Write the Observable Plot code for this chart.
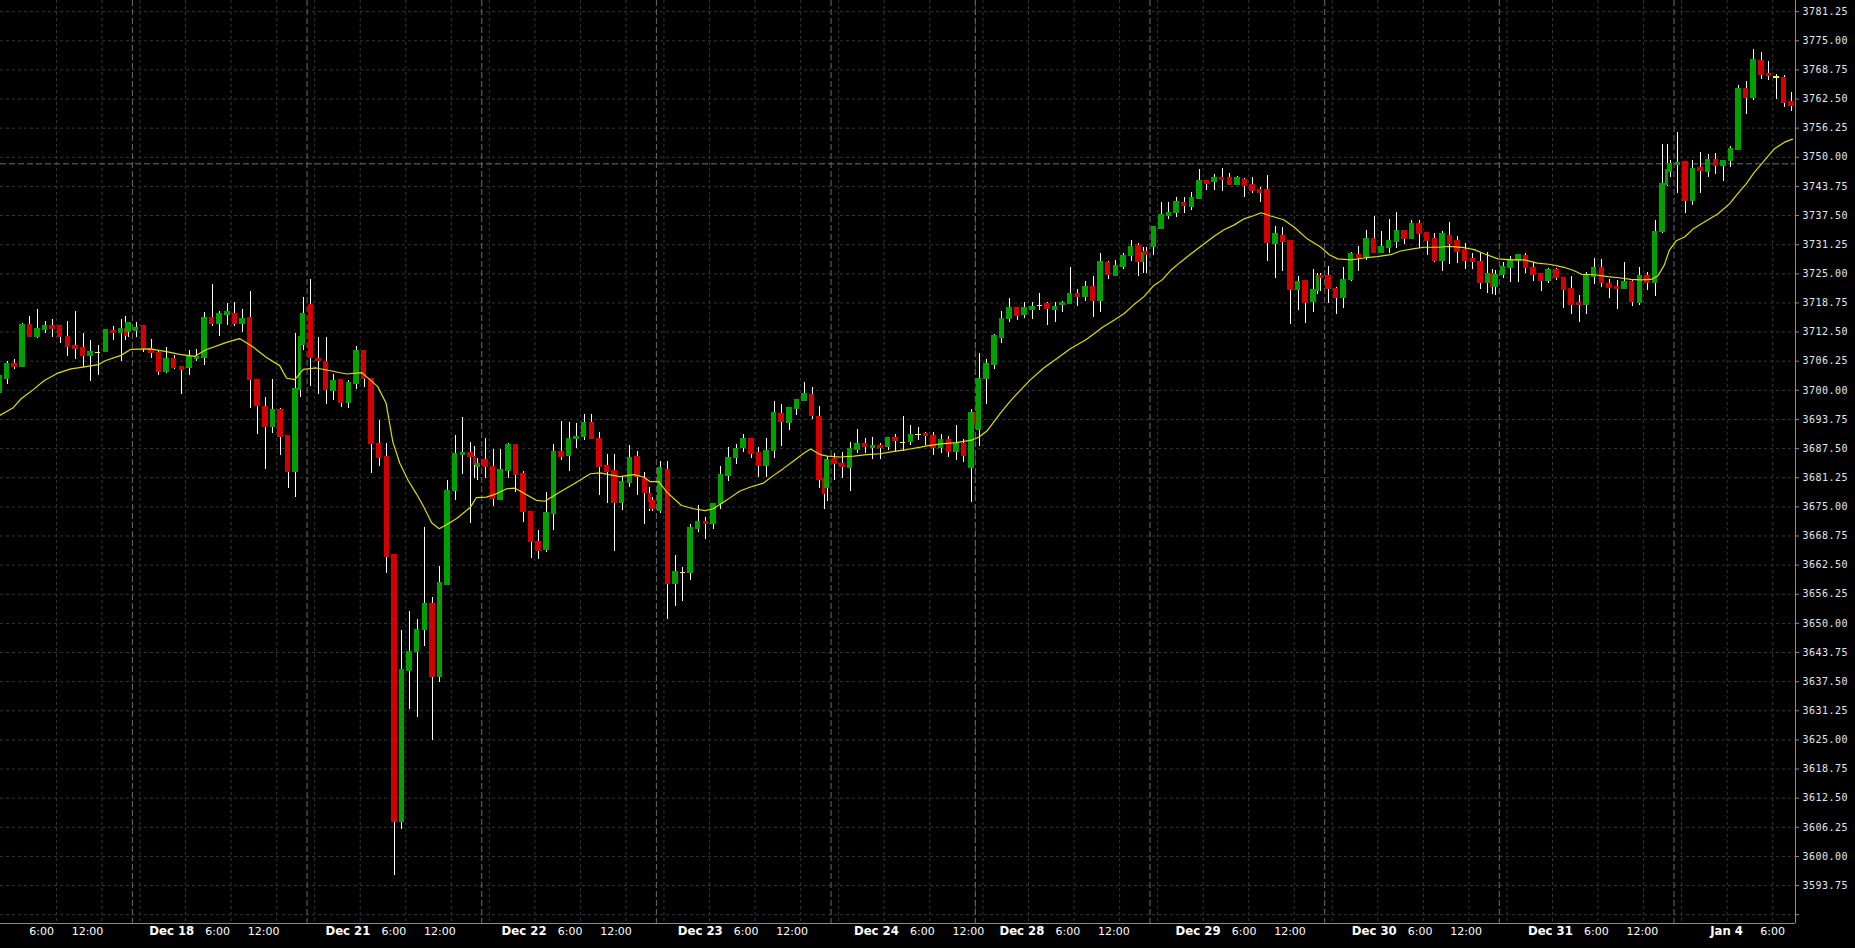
<!DOCTYPE html>
<html>
<head>
<meta charset="utf-8">
<script src="https://cdn.jsdelivr.net/npm/d3@7"></script>
<script src="https://cdn.jsdelivr.net/npm/@observablehq/plot@0.6"></script>
<style>
html, body { margin: 0; padding: 0; background: #000; }
#chart { position: relative; width: 1855px; height: 948px; background: #000; overflow: hidden; }
#chart svg { position: absolute; left: 0; top: 0; }
g[aria-label="y-axis tick label"] text { letter-spacing: 0.5px; }
</style>
</head>
<body>
<div id="chart"></div>
<script>
// ---- hourly candles (bar slot = array index) ----
const openV = [3699.4,3702.6,3705.5,3705.0,3713.9,3711.6,3713.1,3713.7,3713.7,3711.3,3709.4,3709.0,3707.5,3708.0,3708.2,3712.6,3712.3,3712.5,
 3712.9,3713.7,3708.8,3708.0,3704.1,3706.7,3705.0,3704.8,3706.7,3706.9,3715.4,3714.4,3716.3,3716.3,3714.3,3715.4,3702.1,3696.3,3692.1,3695.7,3690.1,3682.5,3709.8,
 3718.2,3706.6,3706.0,3700.0,3702.1,3697.3,3701.5,3708.4,3702.4,3688.4,3685.6,3664.6,3607.5,3639.9,3644.0,3648.7,3654.1,3638.6,3658.4,3678.4,3686.1,3686.4,3683.6,
 3685.0,3683.5,3676.6,3682.7,3688.2,3681.9,3673.9,3667.5,3665.8,3673.5,3686.7,3685.9,3689.6,3690.0,3692.9,3689.6,3683.6,3682.6,3675.8,3680.2,3685.6,3681.2,3676.3,
 3674.2,3682.8,3658.5,3660.8,3660.8,3670.4,3671.6,3671.3,3675.6,3681.7,3685.6,3687.7,3689.4,3686.5,3683.9,3687.1,3694.8,3693.0,3696.1,3697.8,3698.9,3694.2,3679.1,
 3685.2,3684.1,3683.3,3687.3,3688.4,3687.6,3688.0,3688.0,3689.7,3688.7,3688.9,3690.4,3690.5,3690.1,3687.8,3689.3,3686.9,3688.5,3683.4,
 3691.5,3702.6,3705.6,3711.4,3715.3,3717.7,3716.3,3717.4,3718.1,3718.5,3717.4,3718.3,3718.6,3720.6,3720.1,3722.1,3719.3,3727.2,3724.6,3726.6,3728.9,3730.9,3729.6,
 3730.9,3734.6,3737.4,3738.2,3740.1,3739.5,3741.2,3744.8,3744.7,3745.4,3745.4,3744.2,3745.0,3743.9,3742.9,3742.9,3731.4,3733.0,3731.9,3721.6,3723.3,3719.1,3724.5,
 3724.4,3721.6,3719.8,3723.8,3728.9,3728.6,3732.5,3729.6,3730.7,3731.9,3734.1,3732.6,3735.6,3733.6,3732.4,3727.9,3733.0,3731.9,3730.1,3728.1,3727.4,3723.2,3722.3,
 3724.9,3726.3,3727.9,3728.7,3726.2,3725.0,3723.6,3725.7,3724.1,3721.6,3718.6,3718.3,3724.4,3726.1,3722.8,3722.1,3721.9,3723.1,3718.9,3724.4,3723.2,3734.1,3747.0,
 3748.5,3749.0,3740.6,3747.6,3747.0,3749.3,3748.3,3749.2,3751.7,3764.5,3762.7,3770.5,3767.8,3767.1,3766.9,3761.8];
const highV = [3703.5,3706.2,3706.6,3714.4,3715.8,3717.3,3714.8,3715.3,3713.7,3714.8,3716.9,3712.2,3710.7,3709.6,3712.9,3713.7,3715.1,3714.6,
 3714.6,3713.9,3710.9,3708.5,3709.2,3707.5,3705.1,3708.5,3708.7,3716.8,3722.8,3716.9,3718.7,3718.8,3717.3,3721.2,3702.1,3698.5,3702.3,3696.1,3690.1,3712.1,3720.0,
 3723.8,3711.3,3711.3,3703.5,3702.2,3702.1,3709.4,3708.5,3702.5,3693.6,3688.6,3664.7,3648.5,3652.6,3650.8,3670.6,3655.6,3662.2,3680.7,3690.4,3694.1,3688.8,3685.3,
 3689.6,3687.4,3687.4,3688.7,3688.3,3682.6,3674.0,3670.0,3678.0,3688.4,3693.3,3693.2,3692.8,3694.9,3694.9,3690.9,3686.3,3686.3,3681.5,3688.2,3686.9,3682.4,3677.0,
 3684.7,3684.7,3664.6,3662.0,3671.2,3675.3,3672.8,3675.7,3683.7,3687.7,3688.4,3690.5,3689.5,3687.8,3689.7,3697.5,3697.0,3696.2,3697.9,3701.7,3700.7,3696.5,3685.7,
 3686.4,3686.7,3688.8,3691.6,3689.7,3689.8,3688.5,3689.7,3690.5,3694.4,3692.4,3692.1,3691.0,3691.0,3690.5,3690.0,3692.4,3689.5,3695.8,
 3707.8,3706.7,3711.9,3716.9,3719.7,3717.8,3718.8,3718.8,3720.8,3718.9,3718.8,3719.1,3726.4,3721.6,3723.4,3724.4,3729.3,3727.6,3727.8,3729.4,3732.1,3731.4,3730.7,
 3735.0,3740.3,3740.2,3741.4,3741.4,3742.4,3747.4,3745.0,3746.4,3747.7,3746.5,3745.8,3745.4,3745.7,3743.6,3746.1,3735.1,3735.0,3732.0,3724.4,3723.6,3725.9,3725.0,
 3726.6,3722.1,3726.4,3729.6,3730.9,3734.3,3737.3,3734.1,3736.6,3738.2,3734.2,3736.4,3736.4,3733.7,3733.7,3734.1,3736.1,3733.0,3731.6,3729.3,3729.4,3729.6,3725.7,
 3727.5,3728.7,3729.0,3729.4,3727.5,3725.1,3726.2,3726.2,3724.2,3724.4,3720.3,3725.3,3728.2,3728.0,3723.7,3723.6,3727.4,3723.6,3726.3,3725.2,3736.4,3752.7,3749.3,
 3755.3,3749.1,3749.3,3751.0,3750.5,3750.9,3749.3,3752.3,3765.4,3766.3,3773.1,3772.5,3770.5,3767.8,3767.5,3763.8];
const lowV = [3698.5,3701.3,3704.5,3704.8,3711.5,3711.2,3712.3,3711.4,3710.1,3707.3,3706.6,3704.8,3701.8,3703.2,3708.1,3710.7,3706.2,3711.4,
 3711.4,3708.2,3706.9,3703.2,3703.7,3704.4,3699.0,3703.2,3706.2,3705.3,3713.6,3711.6,3714.0,3713.7,3712.5,3696.0,3690.5,3683.1,3690.8,3686.1,3679.0,3677.1,3708.5,
 3700.9,3699.0,3696.9,3697.8,3696.3,3696.1,3700.1,3700.6,3682.2,3683.7,3660.8,3595.9,3605.8,3631.6,3629.8,3645.1,3624.9,3637.3,3658.3,3676.4,3681.9,3671.5,3680.7,
 3681.1,3675.1,3676.3,3681.0,3678.0,3671.7,3664.0,3663.6,3665.3,3670.0,3685.0,3682.6,3687.5,3689.2,3689.5,3677.5,3675.8,3665.5,3674.3,3679.2,3677.4,3671.2,3674.0,
 3673.6,3650.8,3653.7,3654.8,3659.2,3669.6,3668.1,3670.2,3674.4,3680.5,3684.1,3686.7,3685.3,3681.2,3681.2,3685.4,3687.9,3691.4,3694.6,3697.7,3693.7,3679.0,3676.1,
 3680.7,3681.0,3678.2,3686.4,3686.4,3685.2,3685.2,3687.1,3686.6,3686.9,3688.2,3689.2,3688.2,3686.0,3686.5,3685.5,3685.0,3684.5,3676.0,
 3688.0,3696.9,3704.4,3710.1,3714.6,3715.0,3715.5,3715.3,3717.1,3713.9,3714.6,3716.6,3718.5,3718.0,3719.1,3715.6,3716.8,3723.7,3724.5,3726.0,3727.7,3724.5,3725.1,
 3729.0,3734.5,3736.7,3737.1,3737.9,3738.5,3741.1,3742.9,3742.9,3742.7,3743.9,3744.1,3741.4,3742.2,3740.2,3727.6,3724.1,3725.5,3714.2,3717.1,3714.4,3716.6,3721.3,
 3718.7,3716.2,3717.6,3723.4,3725.6,3727.9,3729.5,3729.5,3729.4,3730.5,3731.3,3732.5,3730.5,3728.9,3727.4,3725.5,3727.0,3727.3,3726.0,3726.0,3721.6,3720.7,3720.3,
 3724.1,3723.2,3723.2,3725.1,3723.4,3721.2,3723.0,3723.6,3717.6,3716.2,3714.6,3716.2,3722.8,3722.1,3719.8,3717.4,3721.8,3718.0,3718.2,3721.4,3720.1,3733.7,3745.6,
 3742.3,3738.0,3739.7,3742.2,3745.7,3746.3,3744.8,3747.9,3751.6,3759.2,3762.2,3766.6,3766.5,3762.5,3760.6,3759.9];
const closeV = [3703.0,3705.5,3705.0,3713.9,3711.6,3713.0,3713.7,3713.3,3711.6,3709.3,3709.0,3707.5,3708.1,3708.0,3712.8,3712.3,3713.0,3714.4,
 3713.3,3709.0,3708.0,3704.1,3706.7,3704.8,3704.5,3707.0,3707.0,3715.4,3714.3,3716.3,3716.7,3714.2,3715.2,3702.2,3696.6,3692.1,3695.7,3690.0,3682.5,3700.2,3716.3,
 3706.9,3706.3,3700.2,3701.9,3697.3,3701.5,3708.4,3702.4,3688.5,3685.6,3664.4,3607.5,3639.9,3643.7,3648.5,3654.1,3638.6,3658.5,3678.3,3686.3,3686.4,3685.7,3684.1,
 3683.6,3676.7,3682.8,3688.2,3681.9,3674.0,3667.5,3665.7,3673.6,3686.7,3685.7,3689.5,3690.0,3692.9,3689.6,3683.7,3682.6,3675.8,3680.2,3685.4,3681.4,3678.1,3674.7,
 3683.2,3658.5,3660.9,3660.8,3670.3,3671.6,3671.3,3675.6,3681.7,3685.5,3687.3,3689.4,3686.5,3683.9,3686.9,3695.0,3693.2,3696.1,3697.8,3699.2,3694.5,3680.9,3684.9,
 3684.2,3683.6,3687.3,3688.4,3687.9,3688.0,3687.6,3689.7,3689.2,3688.7,3690.3,3690.4,3690.2,3687.8,3689.3,3686.9,3688.5,3686.0,3695.0,
 3702.3,3705.5,3711.5,3715.2,3717.6,3716.1,3717.6,3717.8,3718.1,3717.6,3717.8,3718.6,3720.6,3720.1,3722.1,3719.3,3727.4,3724.9,3726.6,3728.7,3730.6,3727.7,3729.2,
 3734.9,3737.5,3737.9,3740.3,3739.7,3741.2,3744.8,3744.4,3745.4,3745.1,3744.2,3745.4,3744.0,3742.9,3742.5,3731.6,3733.4,3731.9,3721.5,3723.1,3718.9,3721.4,3724.1,
 3721.7,3719.8,3723.6,3729.1,3728.4,3732.5,3729.6,3730.6,3731.9,3734.1,3732.6,3735.6,3733.6,3732.2,3727.9,3733.4,3731.5,3729.8,3727.9,3727.5,3723.2,3724.9,3724.6,
 3726.3,3727.9,3728.9,3726.3,3724.9,3723.6,3725.7,3724.2,3721.6,3718.4,3718.3,3724.4,3726.1,3723.0,3722.1,3721.7,3723.1,3719.1,3724.4,3723.2,3733.9,3744.1,3748.6,
 3748.8,3740.6,3747.4,3747.2,3749.3,3748.1,3749.1,3751.7,3764.5,3762.8,3770.8,3767.8,3767.4,3767.1,3761.8,3761.0];

// ---- short split bars drawn just before a session's last bar (index of the bar they follow) ----
const extraAfter = [16, 39, 62, 85, 108, 128, 150, 173, 196, 219];
const extraOpen  = [3713.0, 3700.2, 3685.7, 3677.8, 3680.9, 3695.0, 3727.7, 3721.3, 3724.9, 3744.2];
const extraHigh  = [3715.8, 3712.1, 3688.0, 3679.2, 3680.9, 3695.8, 3730.7, 3725.0, 3726.0, 3752.7];
const extraLow   = [3710.7, 3698.5, 3681.0, 3674.1, 3674.4, 3691.9, 3725.1, 3720.5, 3720.5, 3743.8];
const extraClose = [3711.8, 3711.3, 3684.1, 3676.1, 3677.9, 3692.7, 3729.3, 3724.4, 3722.3, 3747.2];

// ---- moving average line (bar slot, value) ----
const maSlot = [0,1.75,2.85,4.4,5.9,7.7,9.4,11,13,14,16,17.3,19.8,22,23.7,25.7,27.2,29.9,31.6,33.4,35.1,36.9,37.8,38.9,40,41.7,
 43.9,45.7,47.7,48.7,49.8,50.9,51.8,52.7,53.8,54.9,55.9,56.9,57.9,58.9,60.2,62,62.8,64.1,65.4,66.8,67.9,69.4,70.7,71.8,73.8,76,77.8,79.1,80.2,81.7,
 83.5,84.8,85.7,86.8,87.9,89.8,91.4,92.9,94,95.8,97.5,98.8,100.6,101.9,103.2,104.6,105.9,106.8,108.1,109,110.7,112.5,114.2,116,117.8,119.5,121.3,122.1,
 124,126,128,129,130.1,131.8,133.1,134.4,135.7,137.5,139.3,141,143,144.1,145.2,146.8,148.1,149.4,150.7,152,153.1,154.2,155.5,156.9,158.6,159.9,161.3,162.6,163.9,165.2,
 166.1,167.4,169.1,170.5,172.2,174,175.1,176.2,178,179.7,181.4,183.2,184.5,186.3,187.6,189.4,191,192.9,194.2,195.5,197.3,199.1,200.8,202.5,204.3,206,207.3,208.3,
 210,211.8,213.5,214.8,216.2,217.5,218.4,219.2,219.9,220.8,221.9,223,224.5,226.3,227.8,228.9,230,231.1,232.2,233.7,235,236.1];
const maValue = [3694.6,3696.2,3698.2,3700.1,3702.1,3703.7,3704.6,3705.0,3705.5,3706.4,3707.5,3708.8,3708.9,3708.3,3707.7,3707.3,3708.7,3710.3,3711.1,3709.3,3707.1,3705.3,3702.6,3702.3,3704.5,3704.8,
 3704.1,3703.5,3703.8,3702.4,3700.8,3697.3,3688.9,3684.4,3680.7,3677.8,3674.9,3671.6,3670.3,3671.2,3672.5,3674.9,3677.0,3677.1,3677.8,3678.9,3679.0,3677.6,3676.4,3676.2,3678.2,3680.3,3682.1,3682.3,3681.9,3681.5,
 3681.9,3681.4,3680.4,3680.4,3678.1,3675.3,3674.6,3674.2,3674.6,3676.5,3678.4,3679.2,3680.1,3681.7,3683.2,3684.9,3686.5,3687.4,3686.2,3685.9,3685.7,3685.9,3686.2,3686.4,3686.9,3687.3,3687.8,3688.1,
 3688.5,3688.8,3689.3,3690.0,3691.4,3695.1,3697.7,3700.0,3702.2,3704.8,3706.9,3708.9,3710.8,3712.1,3713.5,3715.1,3716.5,3718.4,3720.1,3722.5,3723.7,3725.7,3727.5,3729.3,3731.4,3733.0,3734.5,3735.5,3736.8,3737.5,
 3738.1,3737.4,3736.6,3735.0,3732.5,3730.7,3729.1,3728.2,3728.0,3728.4,3728.7,3729.1,3729.9,3730.4,3730.7,3730.7,3730.9,3730.6,3730.2,3729.3,3728.2,3728.0,3728.0,3727.3,3727.0,3726.4,3725.7,3724.9,
 3724.8,3724.4,3724.1,3723.8,3723.7,3723.8,3724.6,3726.8,3730.1,3732.1,3732.9,3734.6,3736.1,3737.9,3740.0,3742.2,3744.3,3746.8,3748.9,3751.8,3753.2,3753.9];

// ---- axes ----
const yTicks = [3587.50,3593.75,3600.00,3606.25,3612.50,3618.75,3625.00,3631.25,3637.50,3643.75,3650.00,3656.25,3662.50,3668.75,3675.00,3681.25,3687.50,3693.75,
 3700.00,3706.25,3712.50,3718.75,3725.00,3731.25,3737.50,3743.75,3750.00,3756.25,3762.50,3768.75,3775.00,3781.25];
const refLevel = 3748.6;
// time-slot boundaries of the labelled hours, and their labels
const hourSlot  = [7.5,13.5, 30.5,36.5, 53.5,59.5, 76.5,82.5, 99.5,105.5, 122.5,128.5, 141.5,147.5, 164.5,170.5, 187.5,193.5, 210.5,216.5, 233.5];
const hourLabel = ["6:00","12:00","6:00","12:00","6:00","12:00","6:00","12:00","6:00","12:00","6:00","12:00","6:00","12:00","6:00","12:00","6:00","12:00","6:00","12:00","6:00"];
const daySlot  = [24.5, 47.5, 70.5, 93.5, 116.5, 135.5, 158.5, 181.5, 204.5, 227.5];
const dayLabel = ["Dec 18","Dec 21","Dec 22","Dec 23","Dec 24","Dec 28","Dec 29","Dec 30","Dec 31","Jan 4"];
const eveningSlot = [18.5, 41.5, 64.5, 87.5, 110.5, 129.5, 152.5, 175.5, 198.5, 221.5];
const sessionBreak = [17.5, 40.5, 63.5, 86.5, 109.5, 128.5, 151.5, 174.5, 197.5, 220.5];

// ---- build ----
const bars = openV.map((o, i) => ({slot: i, o, h: highV[i], l: lowV[i], c: closeV[i]}));
const extras = extraAfter.map((a, k) => ({slot: a + 0.6, o: extraOpen[k], h: extraHigh[k], l: extraLow[k], c: extraClose[k]}));
const ma = maSlot.map((s, k) => ({slot: s, v: maValue[k]}));
const gridSlots = [...hourSlot, ...daySlot, ...eveningSlot];

const W = 1855, H = 948;
const xDomain = [0.1317, 236.50];
const yDomain = [3585.61, 3783.64];
const GREEN = "#00a000", RED = "#d40000", DOJI = "#ffff00";
const BH = 0.36, EH = 0.2;

function bodyMarks(data, half) {
  const common = {
    x1: d => d.slot - half, x2: d => d.slot + half,
    y1: d => Math.min(d.o, d.c), y2: d => Math.max(d.o, d.c),
    insetTop: -0.8, insetBottom: -0.8, shapeRendering: "crispEdges"
  };
  return [
    Plot.rect(data, {...common, filter: d => d.c > d.o, fill: GREEN}),
    Plot.rect(data, {...common, filter: d => d.c < d.o, fill: RED}),
    Plot.rect(data, {...common, filter: d => d.c === d.o, fill: DOJI})
  ];
}

const main = Plot.plot({
  width: W, height: H,
  marginLeft: 0, marginRight: 60, marginTop: 0, marginBottom: 25,
  style: {background: "#000", color: "#e8e8e8", fontFamily: "DejaVu Sans Mono", fontSize: "10px"},
  x: {type: "linear", domain: xDomain, axis: null},
  y: {type: "linear", domain: yDomain},
  marks: [
    Plot.ruleY(yTicks, {stroke: "#363636", strokeDasharray: "3,3"}),
    Plot.ruleX(gridSlots, {stroke: "#363636", strokeDasharray: "3,3"}),
    Plot.ruleX(sessionBreak, {stroke: "#6c6c6c", strokeDasharray: "6,3"}),
    Plot.ruleY([refLevel], {stroke: "#6c6c6c", strokeDasharray: "6,3"}),
    Plot.ruleX(extras, {x: "slot", y1: "l", y2: "h", stroke: "#ffffff", strokeWidth: 1, shapeRendering: "crispEdges"}),
    Plot.ruleX(bars, {x: "slot", y1: "l", y2: "h", stroke: "#ffffff", strokeWidth: 1, shapeRendering: "crispEdges"}),
    ...bodyMarks(extras, EH),
    ...bodyMarks(bars, BH),
    Plot.line(ma, {x: "slot", y: "v", stroke: "#dede00", strokeWidth: 1.2}),
    Plot.ruleX([xDomain[1]], {stroke: "#8a8a8a"}),
    Plot.ruleY([yDomain[0]], {stroke: "#8a8a8a"}),
    Plot.axisY(yTicks, {anchor: "right", tickSize: 3, tickPadding: 4, stroke: "#8a8a8a", fill: "#e8e8e8",
      tickFormat: d => d < 3590 ? "" : d.toFixed(2), label: null})
  ]
});

// time labels use the chart's own (slightly wider) label spacing
const labels = Plot.plot({
  width: W, height: H,
  marginLeft: 0, marginRight: 60, marginTop: 0, marginBottom: 25,
  style: {background: "transparent", color: "#fff"},
  x: {type: "linear", domain: [2.141, 236.50], axis: null},
  marks: [
    Plot.text(hourSlot.map((s, k) => ({slot: s, t: hourLabel[k]})), {x: "slot", text: "t", frameAnchor: "bottom", dy: 11,
      fill: "#ffffff", fontSize: 11, fontFamily: "DejaVu Sans"}),
    Plot.text(daySlot.map((s, k) => ({slot: s, t: dayLabel[k]})), {x: "slot", text: "t", frameAnchor: "bottom", dy: 11,
      fill: "#ffffff", fontSize: 13, fontWeight: "bold", fontFamily: "DejaVu Sans Condensed, DejaVu Sans"})
  ]
});

const host = document.getElementById("chart");
host.appendChild(main);
host.appendChild(labels);
</script>
</body>
</html>
